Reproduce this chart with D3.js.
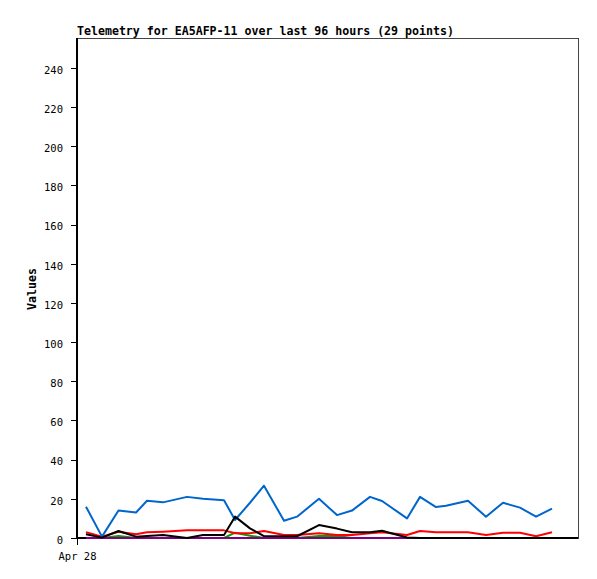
<!DOCTYPE html>
<html>
<head>
<meta charset="utf-8">
<script src="https://cdn.jsdelivr.net/npm/d3@7"></script>
<style>
  html, body { margin: 0; padding: 0; background: #fff; }
  svg { display: block; }
  text { font-family: "DejaVu Sans Mono", "Liberation Mono", monospace; fill: #000; }
</style>
</head>
<body>
<svg id="chart" width="597" height="579"></svg>
<script>
// ---- data ----
const title = "Telemetry for EA5AFP-11 over last 96 hours (29 points)";
const yLabel = "Values";
const xTickLabels = ["Apr 28"];
const xTickHours = [0];
const yTicks = [0, 20, 40, 60, 80, 100, 120, 140, 160, 180, 200, 220, 240];
const hours = [1.72, 4.79, 7.95, 11.31, 13.41, 16.48, 21.08, 24.14, 28.17, 30.28,
  33.15, 35.83, 39.67, 42.16, 46.37, 49.82, 52.70, 56.14, 58.45, 63.24,
  65.73, 68.79, 70.71, 74.92, 78.37, 81.63, 84.89, 87.96, 91.02];
const purpleValues = [0,0,0,0,0,0,0,0,0,0,0,0,0,0,0,0,0,0,0,0,0,0,0,0,0,0,0,0,0];
const greenValues = [0,0,1,0,0,0,0,0,0,2.7,1.2,0,0,0,1,1,0,0,0,0,0,0,0,0,0,0,0,0,0];
const redValues = [3,0.7,3.2,1.9,2.9,3.2,3.9,3.9,3.9,2.4,2.4,3.6,1.5,1.5,2.4,1.5,1.5,2.4,2.9,1.5,3.6,2.9,2.9,2.9,1.5,2.7,2.7,0.9,2.9];
const blueValues = [16,0.7,14,13,19,18.2,21,20,19.3,9.2,18,26.7,8.8,10.9,20,11.7,14,21,18.9,10,21,15.8,16.5,19,10.9,18,15.5,10.9,15];
const blackValues = [1.9,0.2,3.6,0.7,1,1.5,0,1.5,1.5,10.9,4.9,1,0.9,0.9,6.6,4.8,2.9,2.9,3.7,0.3,0,0,0,0,0,0,0,0,0];
const seriesValues = [greenValues, purpleValues, redValues, blueValues, blackValues];
const seriesColors = ["#00a000", "#800080", "#ff0000", "#0066cc", "#000000"];
const hourSpan = 96;
const yMax = 255.3;

// ---- layout ----
const plotLeft = 77, plotRight = 578, plotTop = 38, plotBottom = 538;
const svg = d3.select("#chart");
const x = d3.scaleLinear().domain([0, hourSpan]).range([plotLeft, plotRight]);
const y = d3.scaleLinear().domain([0, yMax]).range([plotBottom, plotTop]);

// frame
svg.append("rect").attr("x", plotLeft).attr("y", plotTop)
  .attr("width", plotRight - plotLeft).attr("height", plotBottom - plotTop)
  .attr("fill", "none").attr("stroke", "#444").attr("stroke-width", 1)
  .attr("shape-rendering", "crispEdges");

// title
svg.append("text").attr("x", plotLeft).attr("y", 35)
  .attr("font-size", "11.6px").attr("font-weight", "bold").text(title);

// y label
svg.append("text").attr("transform", "translate(36,289) rotate(-90)")
  .attr("text-anchor", "middle").attr("font-size", "11.6px").attr("font-weight", "bold")
  .text(yLabel);

// y axis
const yAxis = d3.axisLeft(y).tickValues(yTicks).tickSize(6).tickPadding(8);
const gy = svg.append("g").attr("transform", `translate(${plotLeft},0)`).call(yAxis);
gy.select(".domain").remove();
gy.selectAll("line").attr("stroke", "#000").attr("stroke-width", 1).attr("shape-rendering", "crispEdges");
gy.selectAll("text").attr("font-size", "10.5px").attr("font-family", "'DejaVu Sans Mono', monospace").attr("dy", "0.5em");

// x axis
const xAxis = d3.axisBottom(x).tickValues(xTickHours).tickFormat((d, i) => xTickLabels[i]).tickSize(7).tickPadding(8);
const gx = svg.append("g").attr("transform", `translate(0,${plotBottom})`).call(xAxis);
gx.select(".domain").remove();
gx.selectAll("line").attr("stroke", "#000").attr("stroke-width", 1).attr("shape-rendering", "crispEdges");
gx.selectAll("text").attr("font-size", "10.5px").attr("font-family", "'DejaVu Sans Mono', monospace");

// axis lines
svg.append("line").attr("x1", plotLeft).attr("x2", plotLeft).attr("y1", plotTop).attr("y2", plotBottom + 1)
  .attr("stroke", "#000").attr("stroke-width", 2).attr("shape-rendering", "crispEdges");
svg.append("line").attr("x1", plotLeft).attr("x2", plotRight).attr("y1", plotBottom).attr("y2", plotBottom)
  .attr("stroke", "#000").attr("stroke-width", 2).attr("shape-rendering", "crispEdges");

// series
const line = d3.line().x((d, i) => x(hours[i])).y(d => y(d));
seriesValues.forEach((vals, k) => {
  svg.append("path").datum(vals).attr("d", line)
    .attr("fill", "none").attr("stroke", seriesColors[k]).attr("stroke-width", 2)
    .attr("stroke-linejoin", "round");
});
</script>
</body>
</html>
